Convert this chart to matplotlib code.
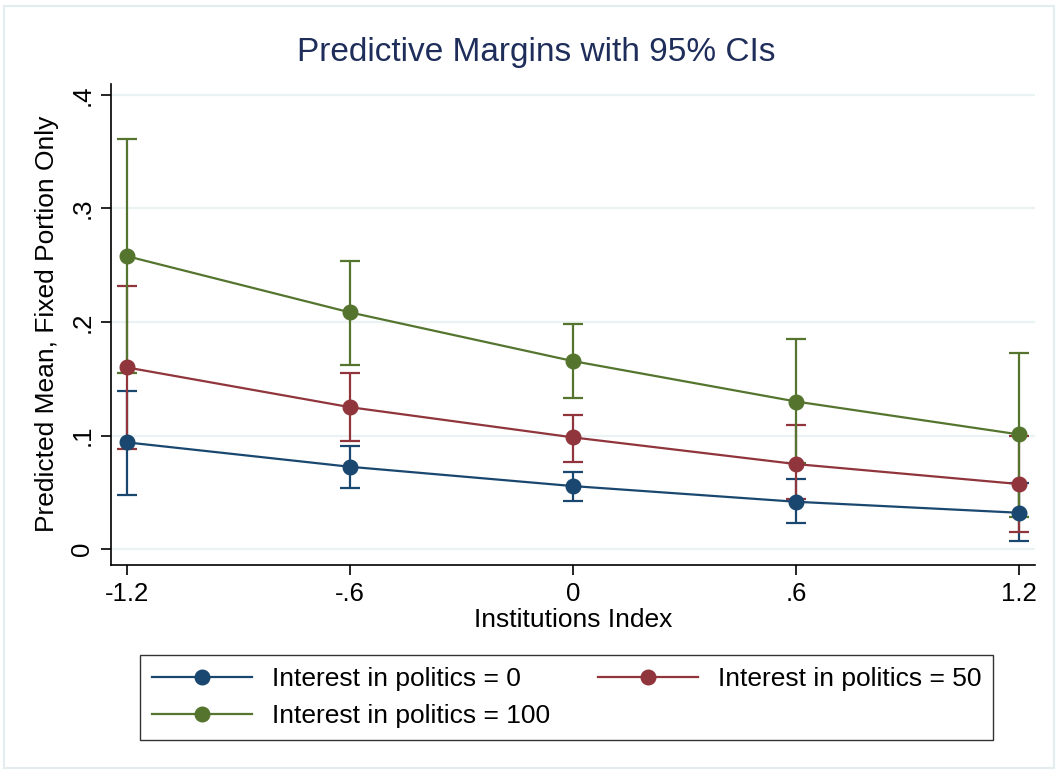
import matplotlib
matplotlib.use("Agg")
import matplotlib.pyplot as plt
from matplotlib.patches import Rectangle

x_vals = [-1.2, -0.6, 0.0, 0.6, 1.2]
x_labels = ["-1.2", "-.6", "0", ".6", "1.2"]
y_ticks = [0, 0.1, 0.2, 0.3, 0.4]
y_labels = ["0", ".1", ".2", ".3", ".4"]

series_names = ["Interest in politics = 0", "Interest in politics = 50", "Interest in politics = 100"]
mean_0 = [0.094, 0.0725, 0.0555, 0.0417, 0.032]
low_0 = [0.048, 0.0535, 0.0426, 0.0226, 0.0073]
high_0 = [0.139, 0.091, 0.0678, 0.062, 0.058]

mean_50 = [0.160, 0.125, 0.0984, 0.0749, 0.0573]
low_50 = [0.088, 0.095, 0.0764, 0.044, 0.0147]
high_50 = [0.232, 0.155, 0.118, 0.109, 0.100]

mean_100 = [0.258, 0.2085, 0.1656, 0.130, 0.101]
low_100 = [0.155, 0.162, 0.1328, 0.076, 0.028]
high_100 = [0.361, 0.254, 0.1985, 0.1847, 0.1724]

colors = ["#1a476f", "#90353b", "#55752f"]

plt.rcParams['font.family'] = ['Liberation Sans', 'DejaVu Sans']

fig = plt.figure(figsize=(10.58, 7.72), dpi=100)
fig.patches.append(Rectangle((4/1058, 4/772), 1050/1058, 762/772, transform=fig.transFigure,
                             fill=False, edgecolor="#e3ecee", linewidth=1.5))

ax = fig.add_axes([111/1058, (772-565)/772, (1035-111)/1058, (565-83.6)/772])

means = [mean_0, mean_50, mean_100]
lows = [low_0, low_50, low_100]
highs = [high_0, high_50, high_100]

# CIs first (under markers)
for m, lo, hi, c in zip(means, lows, highs, colors):
    yerr = [[mi - l for mi, l in zip(m, lo)], [h - mi for mi, h in zip(m, hi)]]
    ax.errorbar(x_vals, m, yerr=yerr, fmt='none', ecolor=c, elinewidth=1.6,
                capsize=7, capthick=1.6, zorder=2)

handles = []
for m, c, n in zip(means, colors, series_names):
    h, = ax.plot(x_vals, m, color=c, lw=1.6, marker='o', markersize=10.5,
                 markeredgecolor=c, markerfacecolor=c, zorder=3, label=n)
    handles.append(h)

ax.set_xlim(-1.243, 1.243)
ax.set_ylim(-0.014, 0.41)
ax.set_xticks(x_vals)
ax.set_xticklabels(x_labels, fontsize=18.5)
ax.set_yticks(y_ticks)
ax.set_yticklabels(y_labels, fontsize=18.5, rotation=90, va='center')
ax.tick_params(axis='both', length=7, width=1.2, color='black')
ax.tick_params(axis='x', pad=5)
ax.tick_params(axis='y', pad=5)
ax.grid(axis='y', color='#eaf2f3', linewidth=1.6, zorder=0)
ax.set_axisbelow(True)
for s in ['top', 'right']:
    ax.spines[s].set_visible(False)
for s in ['left', 'bottom']:
    ax.spines[s].set_linewidth(1.2)

ax.set_xlabel("Institutions Index", fontsize=19, labelpad=2)
ax.set_ylabel("Predicted Mean, Fixed Portion Only", fontsize=19, labelpad=8)
fig.text(536/1058, 1 - 52/772, "Predictive Margins with 95% CIs", fontsize=24,
         color="#1e2d5a", ha='center', va='center')

leg = fig.legend([handles[0], handles[2], handles[1]],
                 [series_names[0], series_names[2], series_names[1]],
                 ncol=2, loc='upper left',
                 bbox_to_anchor=(140/1058, (772-655)/772),
                 fontsize=19, frameon=True, fancybox=False,
                 edgecolor='black', handlelength=3.8, handletextpad=0.75,
                 columnspacing=1.8, borderaxespad=0, labelspacing=0.5,
                 borderpad=0.45)
leg.get_frame().set_linewidth(1.0)

fig.savefig("out.png", dpi=100, facecolor='white')
